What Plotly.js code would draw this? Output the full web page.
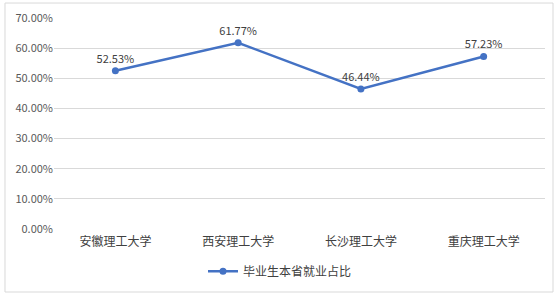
<!DOCTYPE html>
<html>
<head>
<meta charset="utf-8">
<script src="https://cdn.plot.ly/plotly-3.0.1.min.js"></script>
<style>html,body{margin:0;padding:0;background:#fff;}#chart{width:560px;height:296px;}</style>
</head>
<body>
<div id="chart"></div>
<script>
const categories = ["安徽理工大学", "西安理工大学", "长沙理工大学", "重庆理工大学"];
const values = [52.53, 61.77, 46.44, 57.23];
const seriesName = "毕业生本省就业占比";
const yTickVals = [0, 10, 20, 30, 40, 50, 60, 70];
const yTickText = ["0.00%", "10.00%", "20.00%", "30.00%", "40.00%", "50.00%", "60.00%", "70.00%"];

const font = "'Microsoft YaHei', 'Noto Sans CJK SC', 'DejaVu Sans', sans-serif";
const trace = {
  x: categories,
  y: values,
  type: "scatter",
  mode: "lines+markers+text",
  name: seriesName,
  text: values.map(v => v.toFixed(2) + "%"),
  textposition: "top center",
  textfont: {family: font, size: 11, color: "#404040"},
  line: {color: "#4472C4", width: 2.5},
  marker: {color: "#4472C4", size: 7},
  cliponaxis: false
};
const layout = {
  width: 560, height: 296,
  margin: {l: 54, r: 15, t: 18, b: 67, autoexpand: false},
  paper_bgcolor: "#fff", plot_bgcolor: "#fff",
  font: {family: font, size: 11, color: "#595959"},
  showlegend: true,
  legend: {orientation: "h", x: 0.5, xanchor: "center", xref: "container", y: 0.084, yanchor: "middle", yref: "container", font: {family: font, size: 12, color: "#404040"}},
  xaxis: {type: "category", range: [-0.5, 3.5], showgrid: false, zeroline: false, showline: false, ticks: "", ticklabelstandoff: 4, automargin: false, tickfont: {family: font, size: 12, color: "#404040"}},
  yaxis: {range: [0, 70], tickvals: yTickVals, ticktext: yTickText, showgrid: true, gridcolor: "#D9D9D9", gridwidth: 1, zeroline: false, showline: false, ticks: "", automargin: false, tickfont: {family: font, size: 11, color: "#595959"}},
  shapes: [{type: "rect", xref: "paper", yref: "paper", x0: -0.0998, x1: 1.0163, y0: -0.2986, y1: 1.071, line: {color: "#D9D9D9", width: 1}}]
};
Plotly.newPlot("chart", [trace], layout, {displayModeBar: false, staticPlot: true});
</script>
</body>
</html>
